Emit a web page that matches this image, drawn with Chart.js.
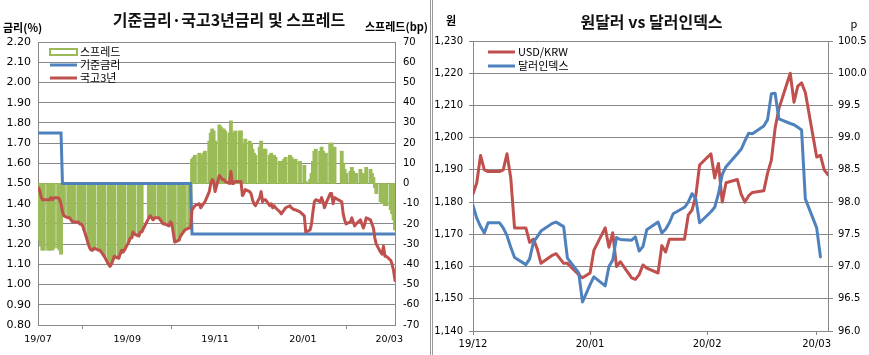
<!DOCTYPE html>
<html>
<head>
<meta charset="utf-8">
<script src="https://cdn.jsdelivr.net/npm/chart.js@4.4.1/dist/chart.umd.min.js"></script>
<style>
html,body{margin:0;padding:0;background:#fff;}
#wrap{position:relative;width:869px;height:355px;overflow:hidden;background:#fff;}
#c1{position:absolute;left:0;top:0;width:430px;height:355px;}
#c2{position:absolute;left:434px;top:0;width:435px;height:355px;}
#sep{position:absolute;left:430px;top:0;width:1px;height:355px;border-left:1px solid #9a9a9a;border-right:1px solid #9a9a9a;}
</style>
</head>
<body>
<div id="wrap">
  <canvas id="c1" width="430" height="355"></canvas>
  <div id="sep"></div>
  <canvas id="c2" width="435" height="355"></canvas>
</div>
<script>
// ---------------- DATA ----------------
// Left chart: 기준금리·국고3년금리 및 스프레드 (daily, Korean trading days)
const LEFT_START = '2019-07-01';
const LEFT_END = '2020-03-05';
const KR_HOLIDAYS = ['2019-08-15','2019-09-12','2019-09-13','2019-10-03','2019-10-09',
                     '2019-12-25','2019-12-31','2020-01-01','2020-01-24','2020-01-27'];
const leftTickDates = ['2019-07-01','2019-09-01','2019-11-01','2020-01-01','2020-03-01'];
const leftTickLabels = ['19/07','19/09','19/11','20/01','20/03'];

// 국고3년 (%)
const ktb3y = [
  1.48,1.47,1.44,1.42,1.42, 1.42,1.42,1.43,1.42,1.43, 1.43,1.42,1.40,1.36,1.34, 1.33,1.33,1.32,1.31,1.31, 1.31,1.30,1.30,
  1.29,1.27, 1.20,1.18,1.17,1.17,1.18, 1.17,1.17,1.16,1.14, 1.10,1.09,1.10,1.12,1.14, 1.13,1.15,1.17,1.16,1.17,
  1.21,1.23,1.23,1.26,1.25, 1.24,1.26,1.26, 1.33,1.34,1.33,1.32,1.33, 1.33,1.32,1.31,1.30,1.30, 1.29,
  1.31,1.30,1.21, 1.22,1.24,1.26,1.27, 1.28,1.28,1.37,1.38,1.39, 1.40,1.38,1.39,1.40,1.41, 1.46,1.50,1.52,1.51,
  1.46, 1.54,1.53,1.52,1.52,1.51, 1.50,1.56,1.50,1.50,1.51, 1.51,1.51,1.44,1.45,1.47, 1.46,1.45,1.42,1.40,1.39,
  1.43,1.46,1.41,1.42,1.42, 1.39,1.40,1.38,1.39,1.38, 1.36,1.35,1.36,1.37,1.38, 1.39,1.38,1.37,1.37, 1.36,
  1.34,1.26, 1.27,1.30,1.36,1.41,1.42, 1.41,1.43,1.41,1.38,1.40, 1.45,1.45,1.40,1.43, 1.41,1.35,1.32,1.30,
  1.31,1.33,1.31,1.29,1.30, 1.32,1.30,1.28,1.30,1.33, 1.32,1.30,1.28,1.23,1.20, 1.16,1.15,1.19,1.14,1.14,
  1.12,1.10,1.07,1.02
];
// 스프레드 (bp)
const spreadBp = [
  -27,-28,-31,-33,-33, -33,-33,-32,-33,-32, -32,-33,-35,-14,-16, -17,-17,-18,-19,-19, -19,-20,-20,
  -21,-23, -30,-32,-33,-33,-32, -33,-33,-34,-36, -40,-41,-40,-38,-36, -37,-35,-33,-34,-33,
  -29,-27,-27,-24,-25, -26,-24,-24, -17,-16,-17,-18,-17, -17,-18,-19,-20,-20, -21,
  -19,-20,-29, -28,-26,-24,-23, -22,-22,12,13,14, 15,13,14,15,16, 21,25,27,26,
  21, 29,28,27,27,26, 25,31,25,25,26, 26,26,19,20,22, 21,20,17,15,14,
  18,21,16,17,17, 14,15,13,14,13, 11,10,11,12,13, 14,13,12,12, 11,
  9,1, 2,5,11,16,17, 16,18,16,13,15, 20,20,15,18, 16,10,7,5,
  6,8,6,4,5, 7,5,3,5,8, 7,5,3,-2,-5, -9,-10,-6,-11,-11,
  -13,-15,-18,-23
];
// 기준금리 (%) : rate decision dates and levels
const baseRateDates = ['2019-07-01','2019-07-18','2019-10-16'];
const baseRateValues = [1.75, 1.50, 1.25];

// Right chart: 원달러 vs 달러인덱스
const RIGHT_START = '2019-12-02';
const RIGHT_END = '2020-03-05';
const FX_HOLIDAYS = ['2019-12-25','2020-01-01'];
const rightTickDates = ['2019-12-02','2020-01-02','2020-02-02','2020-03-02'];
const rightTickLabels = ['19/12','20/01','20/02','20/03'];
// USD/KRW (원)
const usdKrw = [
  1182.5,1186,1194.5,1190,1189.5, 1189.5,1190,1195,1187.5,1172, 1172,1167.5,1168.5,1165.5,1161, 1163.5,1164,1161,1161, 1157.5,1156.5,
  1158,1165, 1172,1166,1170.5,1160,1161.5, 1156.5,1156,1157.5,1160.5,1159.5, 1158,1166.5,1164.5,1168.5,1168.5, 1168.5,1176,1177.5,1182,1191.5,
  1195,1187.5,1192,1180,1186, 1187,1182.5,1180,1182,1183, 1183.5,1189,1193,1203,1209, 1220,1211,1216,1217,1214,
  1194,1194.5,1190,1188.5
];
// 달러인덱스 (p)
const dollarIndex = [
  97.95,97.75,97.62,97.52,97.68, 97.68,97.60,97.48,97.30,97.14, 97.03,97.12,97.38,97.46,97.55, 97.67,97.69,97.62,97.13, 96.90,96.45,
  96.72,96.84, 96.70,97.00,97.10,97.45,97.42, 97.41,97.46,97.24,97.31,97.57, 97.69,97.52,97.58,97.68,97.82, 97.92,98.00,98.13,98.05,97.68,
  97.85,97.92,98.13,98.43,98.55, 98.75,98.82,98.95,99.07,99.06, 99.18,99.28,99.68,99.69,99.29, 99.22,99.20,99.16,99.12,98.05,
  97.60,97.15,null,null
];

// ---------------- HELPERS ----------------
const DAY = 86400000;
function tradingDays(start, end, holidays) {
  const out = [], hol = new Set(holidays);
  for (let t = Date.parse(start); t <= Date.parse(end); t += DAY) {
    const d = new Date(t), wd = d.getUTCDay(), s = d.toISOString().slice(0, 10);
    if (wd !== 0 && wd !== 6 && !hol.has(s)) out.push(s);
  }
  return out;
}
const dayIndex = (s, origin) => Math.round((Date.parse(s) - Date.parse(origin)) / DAY);
const pts = (xs, ys) => xs.map((x, i) => ({x: x, y: ys[i]}));

const leftDates = tradingDays(LEFT_START, LEFT_END, KR_HOLIDAYS);
const lx = leftDates.map(s => dayIndex(s, LEFT_START));
const baseRate = leftDates.map(s => {
  let v = null;
  baseRateDates.forEach((d, i) => { if (s >= d) v = baseRateValues[i]; });
  return v;
});
const rightDates = tradingDays(RIGHT_START, RIGHT_END, FX_HOLIDAYS);
const rx = rightDates.map(s => dayIndex(s, RIGHT_START));

// ---------------- STYLE ----------------
const GRID = '#888888';
const KFONT = '"Noto Sans CJK KR", "Noto Sans", sans-serif';
const NFONT = '"DejaVu Sans", sans-serif';
const RED = '#C0504D', BLUE = '#4F81BD', GREEN = '#9BBB59';

const overlay = {
  id: 'overlay',
  afterDraw(chart, args, opts) {
    const ctx = chart.ctx;
    ctx.save();
    ctx.textBaseline = 'middle';
    (opts.texts || []).forEach(t => {
      ctx.font = t.font; ctx.fillStyle = t.color || '#000'; ctx.textAlign = t.align || 'left';
      ctx.fillText(t.text, t.x, t.y);
    });
    const lg = opts.legend;
    if (lg) {
      lg.items.forEach((it, k) => {
        const ds = chart.data.datasets[it.ds];
        const y = lg.y + k * lg.dy;
        if (it.kind === 'box') {
          ctx.strokeStyle = ds.backgroundColor; ctx.lineWidth = 2;
          ctx.strokeRect(lg.x, y - 3, lg.w, 6);
        } else {
          ctx.fillStyle = ds.borderColor;
          ctx.fillRect(lg.x, y - 1.5, lg.w, 3);
        }
        ctx.font = lg.font; ctx.fillStyle = '#000'; ctx.textAlign = 'left';
        ctx.fillText(ds.label, lg.x + lg.w + 3, y);
      });
    }
    ctx.restore();
  }
};
Chart.register(overlay);

// ---------------- LEFT CHART ----------------
const tickFontL = {family: NFONT, size: 11};
const tickFontLx = {family: NFONT, size: 9.5};
const tickFontL1 = {family: NFONT, size: 10};
new Chart(document.getElementById('c1'), {
  type: 'line',
  data: {
    datasets: [
      {label: '국고3년', data: pts(lx, ktb3y), yAxisID: 'y', borderColor: RED, borderWidth: 3,
       pointRadius: 0, borderJoinStyle: 'round', borderCapStyle: 'round', order: 1},
      {label: '기준금리', data: pts(lx, baseRate), yAxisID: 'y', borderColor: BLUE, borderWidth: 3,
       pointRadius: 0, order: 2},
      {type: 'bar', label: '스프레드', data: pts(lx, spreadBp), yAxisID: 'y1', backgroundColor: GREEN,
       borderWidth: 0, barThickness: 3.2, order: 3}
    ]
  },
  options: {
    responsive: false, animation: false, events: [],
    layout: {padding: {top: 42, left: 0, right: 0, bottom: 0}},
    plugins: {
      legend: {display: false}, tooltip: {enabled: false},
      overlay: {
        texts: [
          {text: '기준금리·국고3년금리 및 스프레드', x: 229, y: 20, align: 'center', font: 'bold 16px ' + KFONT, color: '#111'},
          {text: '금리(%)', x: 3, y: 27.5, font: 'bold 11px ' + KFONT},
          {text: '스프레드(bp)', x: 365, y: 27, font: 'bold 11px ' + KFONT}
        ],
        legend: {x: 50, y: 52, dy: 13, w: 27, font: '11px ' + KFONT,
                 items: [{ds: 2, kind: 'box'}, {ds: 1, kind: 'line'}, {ds: 0, kind: 'line'}]}
      }
    },
    scales: {
      x: {
        type: 'linear', min: 0, max: dayIndex(LEFT_END, LEFT_START), offset: false,
        afterBuildTicks: s => { s.ticks = leftTickDates.map(d => ({value: dayIndex(d, LEFT_START)})); },
        afterFit: s => { s.height = 30; },
        ticks: {autoSkip: false, maxRotation: 0, minRotation: 0, padding: 5, color: '#000', font: tickFontLx,
                callback: (v, i) => leftTickLabels[i]},
        grid: {drawOnChartArea: false, drawTicks: true, tickLength: 4, color: GRID},
        border: {display: true, color: GRID}
      },
      y: {
        position: 'left', min: 0.8, max: 2.2,
        afterFit: s => { s.width = 38; },
        ticks: {stepSize: 0.05, padding: 7, color: '#000', font: tickFontL, callback: v => v.toFixed(2)},
        grid: {color: GRID, drawTicks: false},
        border: {display: true, color: GRID}
      },
      y1: {
        position: 'right', min: -70, max: 70,
        afterFit: s => { s.width = 35; },
        ticks: {stepSize: 10, padding: 8, color: '#000', font: tickFontL1, callback: v => String(v)},
        grid: {display: false, drawTicks: false},
        border: {display: true, color: GRID}
      }
    }
  }
});

// ---------------- RIGHT CHART ----------------
const tickFontR = {family: NFONT, size: 10};
new Chart(document.getElementById('c2'), {
  type: 'line',
  data: {
    datasets: [
      {label: 'USD/KRW', data: pts(rx, usdKrw), yAxisID: 'y', borderColor: RED, borderWidth: 3,
       pointRadius: 0, borderJoinStyle: 'round', borderCapStyle: 'round', order: 2},
      {label: '달러인덱스', data: pts(rx, dollarIndex), yAxisID: 'y1', borderColor: BLUE, borderWidth: 3,
       pointRadius: 0, borderJoinStyle: 'round', borderCapStyle: 'round', order: 1, spanGaps: false}
    ]
  },
  options: {
    responsive: false, animation: false, events: [],
    layout: {padding: {top: 41, left: 0, right: 0, bottom: 0}},
    plugins: {
      legend: {display: false}, tooltip: {enabled: false},
      overlay: {
        texts: [
          {text: '원달러 vs 달러인덱스', x: 217.5, y: 21.5, align: 'center', font: 'bold 16px ' + KFONT, color: '#111'},
          {text: '원', x: 17, y: 21, align: 'center', font: 'bold 11px ' + KFONT},
          {text: 'p', x: 420, y: 24, align: 'center', font: '11px ' + KFONT}
        ],
        legend: {x: 54, y: 52, dy: 14, w: 27, font: '11px ' + KFONT,
                 items: [{ds: 0, kind: 'line'}, {ds: 1, kind: 'line'}]}
      }
    },
    scales: {
      x: {
        type: 'linear', min: 0, max: dayIndex(RIGHT_END, RIGHT_START), offset: false,
        afterBuildTicks: s => { s.ticks = rightTickDates.map(d => ({value: dayIndex(d, RIGHT_START)})); },
        afterFit: s => { s.height = 24; },
        ticks: {autoSkip: false, maxRotation: 0, minRotation: 0, padding: 3, color: '#000', font: tickFontR,
                callback: (v, i) => rightTickLabels[i]},
        grid: {drawOnChartArea: false, drawTicks: true, tickLength: 4, color: GRID},
        border: {display: true, color: GRID}
      },
      y: {
        position: 'left', min: 1140, max: 1230,
        afterFit: s => { s.width = 39; },
        ticks: {stepSize: 10, padding: 6, color: '#000', font: tickFontR, callback: v => v.toLocaleString('en-US')},
        grid: {color: GRID, drawTicks: true, tickLength: 4},
        border: {display: true, color: GRID}
      },
      y1: {
        position: 'right', min: 96, max: 100.5,
        afterFit: s => { s.width = 41; },
        ticks: {stepSize: 0.5, padding: 5, color: '#000', font: tickFontR, callback: v => v.toFixed(1)},
        grid: {drawOnChartArea: false, drawTicks: true, tickLength: 5, color: GRID},
        border: {display: true, color: GRID}
      }
    }
  }
});
</script>
</body>
</html>
